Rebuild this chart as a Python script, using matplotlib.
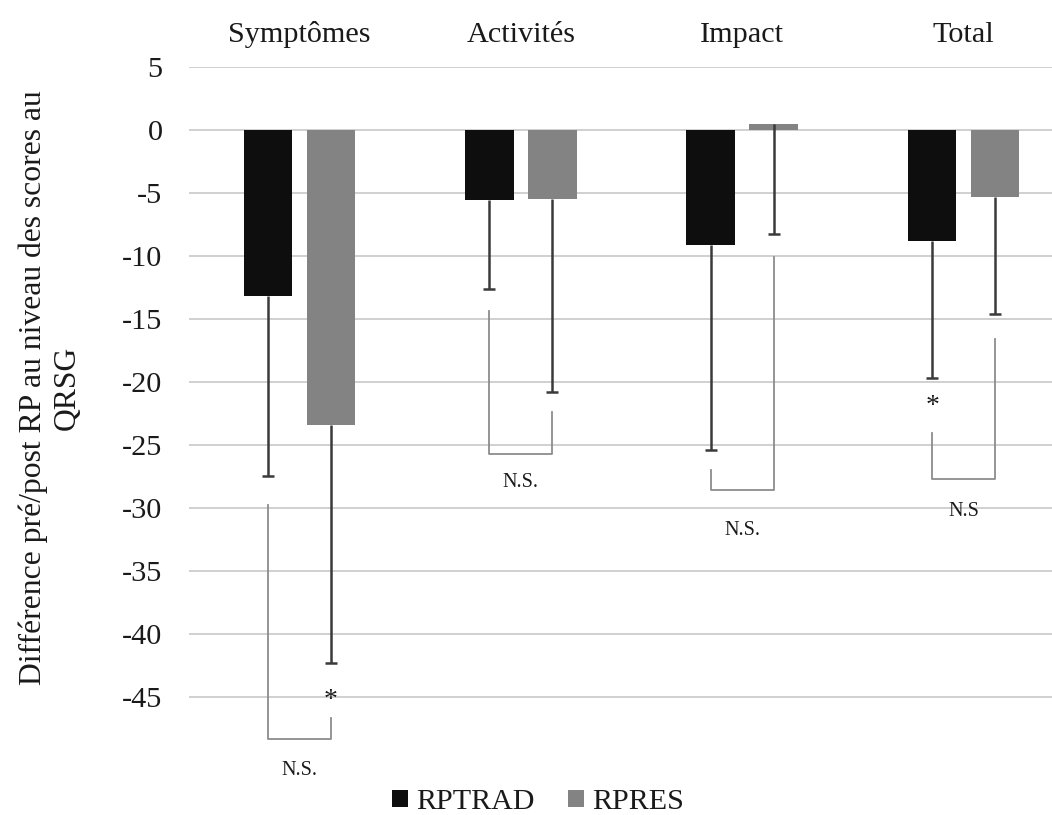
import numpy as np
import matplotlib
matplotlib.use('Agg')
import matplotlib.pyplot as plt

plt.rcParams['font.family'] = ['Liberation Serif', 'DejaVu Serif']
plt.rcParams['axes.unicode_minus'] = False

# données : différence pré/post RP (moyenne et écart-type vers le bas)
categories = ['Symptômes', 'Activités', 'Impact', 'Total']
rptrad = [-13.2, -5.6, -9.1, -8.8]
rptrad_sd = [14.3, 7.0, 16.3, 10.9]
rpres = [-23.4, -5.5, 0.5, -5.3]
rpres_sd = [18.9, 15.3, 8.8, 9.3]

# crochets de comparaison : haut jambe gauche, haut jambe droite, base, texte
bracket_left = [-29.8, -14.4, -27.0, -24.1]
bracket_right = [-46.7, -22.4, -10.1, -16.6]
bracket_base = [-48.4, -25.7, -28.6, -27.7]
bracket_text = ['N.S.', 'N.S.', 'N.S.', 'N.S']
bracket_text_y = [-50.9, -28.0, -31.8, -30.3]

# astérisques (groupe, série, y)
stars = [(0, 'RPRES', -45.3), (3, 'RPTRAD', -22.0)]

c_trad = '#0e0e0e'
c_res = '#838383'
c_err = '#3a3a3a'
c_brk = '#8c8c8c'
txt = '#1a1a1a'
fs = 21.8

fig = plt.figure(figsize=(10.52, 8.15), dpi=100)
ax = fig.add_axes([0.1795, 0.0681, 0.830, 0.8497])

x = np.arange(len(categories))
w = 0.22
off = 0.142
xs = {'RPTRAD': x - off, 'RPRES': x + off}

ax.bar(xs['RPTRAD'], rptrad, w, color=c_trad, label='RPTRAD', zorder=3)
ax.bar(xs['RPRES'], rpres, w, color=c_res, label='RPRES', zorder=3)

# barres d'erreur uniquement vers le bas
for key, vals, sd in [('RPTRAD', rptrad, rptrad_sd), ('RPRES', rpres, rpres_sd)]:
    vals = np.array(vals)
    sd = np.array(sd)
    ax.errorbar(xs[key], vals, yerr=[sd, np.zeros_like(sd)], fmt='none',
                ecolor=c_err, elinewidth=1.8, capsize=0, zorder=4)
    ax.plot(xs[key], vals - sd, ls='none', marker='_', ms=9, mew=1.8,
            color=c_err, zorder=4)

# crochets N.S.
for i in range(len(categories)):
    xl, xr = xs['RPTRAD'][i], xs['RPRES'][i]
    ax.plot([xl, xl, xr, xr],
            [bracket_left[i], bracket_base[i], bracket_base[i], bracket_right[i]],
            color=c_brk, lw=1.3, clip_on=False, zorder=2)
    ax.text(x[i], bracket_text_y[i], bracket_text[i], ha='center', va='center',
            fontsize=14.5, color=txt)

for g, key, yy in stars:
    ax.text(xs[key][g], yy, '*', ha='center', va='center', fontsize=20,
            color=txt)

ax.set_xlim(-0.5, 3.5 - 12 / 218)
ax.set_ylim(-50, 5)
ax.set_yticks(np.arange(-45, 6, 5))
ax.yaxis.grid(True, color='#c8c8c8', lw=1.2, zorder=0)
ax.set_axisbelow(True)
for s in ax.spines.values():
    s.set_visible(False)

ax.xaxis.tick_top()
ax.set_xticks(x)
ax.set_xticklabels(categories)
ax.tick_params(axis='x', length=0, pad=14, labelsize=fs, labelcolor=txt)
ax.tick_params(axis='y', length=0, pad=19, labelsize=fs, labelcolor=txt)

fig.text(50 / 1052, 1 - 388 / 815,
         'Différence pré/post RP au niveau des scores au\nQRSG',
         rotation=90, ha='center', va='center', multialignment='center',
         fontsize=22.8, color=txt, linespacing=1.19)

fig.legend(loc='center', bbox_to_anchor=(538 / 1052, 1 - 802 / 815), ncol=2,
           frameon=False, fontsize=21.6, handlelength=0.53, handleheight=0.53,
           handletextpad=0.27, columnspacing=1.13, labelcolor=txt,
           borderpad=0.1)

fig.savefig('out.png', dpi=100)
